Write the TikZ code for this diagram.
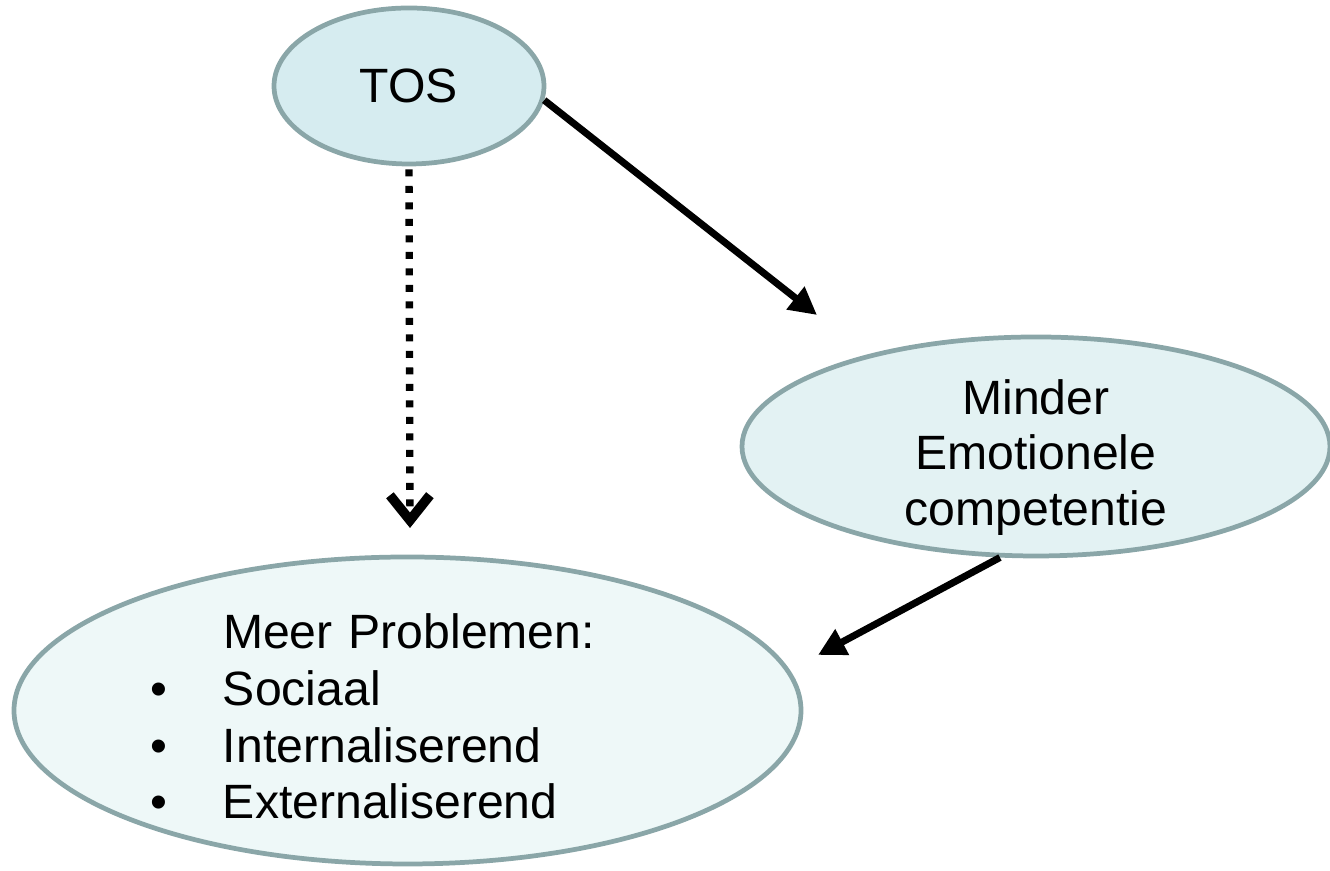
\documentclass[tikz,border=0pt]{standalone}
\usepackage{fontspec}
\setmainfont{Liberation Sans}
\usetikzlibrary{arrows.meta,shapes.geometric}
\definecolor{tosfill}{HTML}{D6ECF0}
\definecolor{minderfill}{HTML}{E3F2F3}
\definecolor{meerfill}{HTML}{EEF8F8}
\definecolor{rimgray}{HTML}{8AA6A8}
\tikzset{
	bubble/.style={ellipse, draw=rimgray, line width=2.7pt, inner sep=0pt},
	bubbletext/.style={inner sep=0pt, font=\fontsize{27.4}{31.5}\selectfont},
	pijl/.style={line width=4pt, -{Triangle[length=0.55cm,width=0.55cm]}},
	stippel/.style={line width=4.2pt, dash pattern=on 0.14cm off 0.19cm, -{Straight Barb[length=0.5cm,width=0.8cm,line width=5.5pt]}}
}

\begin{document}
\begin{tikzpicture}
		%%%%% START %%%%%
		\useasboundingbox (0,0) rectangle (26.6,17.42);
		
		\node[bubble, fill=tosfill, minimum width=5.4cm, minimum height=3.12cm] (tos) at (8.18,15.70) {};
		\node[bubble, fill=minderfill, minimum width=11.76cm, minimum height=4.38cm] (minder) at (20.72,8.49) {};
		\node[bubble, fill=meerfill, minimum width=15.74cm, minimum height=6.14cm] (meer) at (8.15,3.21) {};
		
		\node[bubbletext] (tostxt) at (tos) {TOS};
		\node[bubbletext, align=center] (mindertxt) at ([yshift=-0.22cm]minder) {Minder\\Emotionele\\competentie};
		\node[bubbletext, text width=10.3cm, align=left, font=\fontsize{27.4}{32.3}\selectfont] (meertxt) at ([yshift=-0.12cm]meer)
			{\hspace*{1.46cm}Meer Problemen:\\
			 \makebox[1.46cm][l]{\textbullet}Sociaal\\
			 \makebox[1.46cm][l]{\textbullet}Internaliserend\\
			 \makebox[1.46cm][l]{\textbullet}Externaliserend};
		
		\coordinate (tipA) at (16.34,11.12);
		\coordinate (tipB) at (8.2,6.86);
		\coordinate (tipC) at (16.36,4.32);
		
		\draw[pijl] (tos.-6) -- (tipA);
		\draw[stippel, shorten <=0.06cm] (tos.south) -- (tipB);
		\draw[pijl] (minder.-108) -- (tipC);
		
		%%%%% END %%%%%
	\end{tikzpicture}
\end{document}
